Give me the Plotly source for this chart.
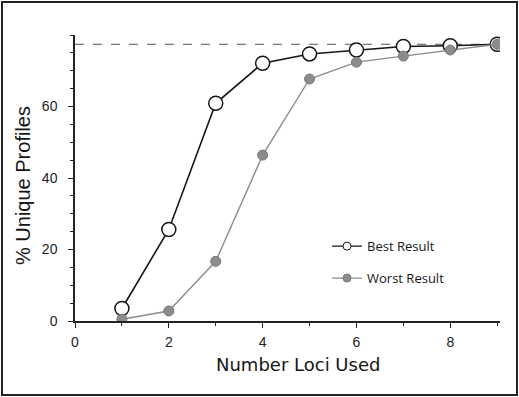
import plotly.graph_objects as go

loci = [1, 2, 3, 4, 5, 6, 7, 8, 9]
best = [3.5, 25.6, 60.9, 72.1, 74.7, 75.8, 76.8, 77.0, 77.4]
worst = [0.5, 2.8, 16.7, 46.4, 67.7, 72.4, 74.1, 75.8, 77.4]
max_line = 77.4
x_ticks = [0, 2, 4, 6, 8]
y_ticks = [0, 20, 40, 60]

L, R, T, B = 75, 19, 35, 76
W, H = 519, 397
pw, ph = W - L - R, H - T - B
BLACK = "#161616"
GREY = "#8c8c8c"

fig = go.Figure()
fig.add_trace(go.Scatter(
    x=[0, 9.06], y=[max_line, max_line], mode="lines",
    line=dict(color="#555555", width=1, dash="dash"), showlegend=False, hoverinfo="skip"))
fig.add_trace(go.Scatter(
    x=loci, y=best, mode="lines+markers", name="Best Result", showlegend=False,
    line=dict(color=BLACK, width=1.6),
    marker=dict(size=14, color="white", line=dict(color=BLACK, width=1.5))))
fig.add_trace(go.Scatter(
    x=loci, y=worst, mode="lines+markers", name="Worst Result", showlegend=False,
    line=dict(color=GREY, width=1.4),
    marker=dict(size=10, color=GREY, line=dict(color="#777777", width=1))))
# legend entries (smaller symbols as in the reference)
fig.add_trace(go.Scatter(
    x=[None], y=[None], mode="lines+markers", name="Best Result", legendgroup="b",
    line=dict(color=BLACK, width=1.2),
    marker=dict(size=8, color="white", line=dict(color=BLACK, width=1))))
fig.add_trace(go.Scatter(
    x=[None], y=[None], mode="lines+markers", name="Worst Result", legendgroup="w",
    line=dict(color=GREY, width=1.2),
    marker=dict(size=8, color=GREY, line=dict(color="#777777", width=1))))

# outer frame
fig.add_shape(type="rect", xref="paper", yref="paper",
              x0=(2 - L) / pw, x1=(517 - L) / pw,
              y0=-(395 - T - ph) / ph, y1=1 + (T - 2) / ph,
              line=dict(color="#222222", width=2))

# axis titles as annotations for exact placement
fig.add_annotation(text="Number Loci Used", xref="paper", yref="paper",
                   x=(298 - L) / pw, y=-(364 - T - ph) / ph, showarrow=False,
                   xanchor="center", yanchor="middle",
                   font=dict(family="DejaVu Sans, Liberation Sans", size=18, color="#161616"))
fig.add_annotation(text="% Unique Profiles", xref="paper", yref="paper",
                   x=(23 - L) / pw, y=(T + ph - 186) / ph, showarrow=False, textangle=-90,
                   xanchor="center", yanchor="middle",
                   font=dict(family="Liberation Sans, Arial", size=20, color="#161616"))

fig.update_layout(
    width=W, height=H, margin=dict(l=L, r=R, t=T, b=B),
    paper_bgcolor="white", plot_bgcolor="white",
    font=dict(family="Liberation Sans, Arial", color="#222222", size=14),
    legend=dict(x=0.593, y=0.314, xanchor="left", yanchor="top",
                font=dict(family="Open Sans, Lato", size=13, color="#161616"),
                bgcolor="rgba(0,0,0,0)", tracegroupgap=12, itemwidth=30),
    xaxis=dict(range=[0, 9.06], tickvals=x_ticks, ticks="outside", ticklen=5,
               showline=True, linecolor="#222222", linewidth=1.5, showgrid=False,
               zeroline=False, tickcolor="#222222", ticklabelstandoff=2,
               minor=dict(dtick=1, tick0=0, ticks="outside", ticklen=3, tickcolor="#222222")),
    yaxis=dict(range=[0, 80], tickvals=y_ticks, ticks="outside", ticklen=5,
               showline=True, linecolor="#222222", linewidth=1.5, showgrid=False,
               zeroline=False, tickcolor="#222222", ticklabelstandoff=8,
               minor=dict(dtick=5, tick0=0, ticks="outside", ticklen=3, tickcolor="#222222")),
)
fig.write_html("out.html", config={"displayModeBar": False},
               post_script="document.body.style.margin='0';")
